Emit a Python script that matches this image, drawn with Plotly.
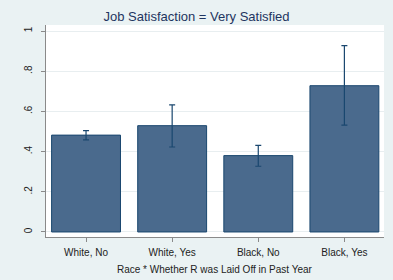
import plotly.graph_objects as go

categories = ["White, No", "White, Yes", "Black, No", "Black, Yes"]
means = [0.482, 0.529, 0.380, 0.728]
ci_upper = [0.504, 0.633, 0.431, 0.927]
ci_lower = [0.458, 0.423, 0.327, 0.532]
y_ticks = [0, 0.2, 0.4, 0.6, 0.8, 1]
y_tick_labels = ["0", ".2", ".4", ".6", ".8", "1"]
x_title = "Race * Whether R was Laid Off in Past Year"

err_plus = [u - m for u, m in zip(ci_upper, means)]
err_minus = [m - l for m, l in zip(means, ci_lower)]

W, H = 393, 280
L, R, T, B = 46, 9, 25, 43

fig = go.Figure()
fig.add_trace(go.Bar(
    x=list(range(len(categories))), y=means, width=0.8,
    marker=dict(color="#4A6A8D", line=dict(color="#1A476F", width=1)),
    error_y=dict(type="data", symmetric=False, array=err_plus, arrayminus=err_minus,
                 color="#1A476F", thickness=1.2, width=3),
    showlegend=False,
))

fig.update_layout(
    width=W, height=H,
    margin=dict(l=L, r=R, t=T, b=B),
    paper_bgcolor="#EAF2F3", plot_bgcolor="#FFFFFF",
    font=dict(family="Liberation Sans, Arial, sans-serif", size=10, color="#222222"),
    title=dict(text="Job Satisfaction = Very Satisfied", x=0.5, xanchor="center",
               y=1 - 16/H, yanchor="middle",
               font=dict(size=13, color="#1E3560")),
    xaxis=dict(
        range=[-0.465, 3.46], tickmode="array", tickvals=list(range(len(categories))),
        ticktext=categories, showgrid=False, showline=True, linecolor="#8A8A8A",
        linewidth=1, ticks="outside", ticklen=4, tickcolor="#8A8A8A",
        ticklabelstandoff=2, automargin=False,
        zeroline=False, fixedrange=True,
    ),
    yaxis=dict(
        range=[-0.025, 1.03], tickmode="array", tickvals=y_ticks, ticktext=y_tick_labels,
        tickangle=-90, showgrid=True, gridcolor="#E8EEF0", gridwidth=1,
        showline=True, linecolor="#8A8A8A", linewidth=1, ticks="outside", ticklen=4,
        tickcolor="#8A8A8A", zeroline=False, fixedrange=True, ticklabelstandoff=5,
        automargin=False,
    ),
    annotations=[dict(
        text=x_title, xref="paper", yref="paper", x=0.5,
        y=-(269 - (H - B)) / (H - T - B), xanchor="center", yanchor="middle",
        showarrow=False, font=dict(size=10, color="#222222"),
    )],
)

fig.write_html("out.html")
